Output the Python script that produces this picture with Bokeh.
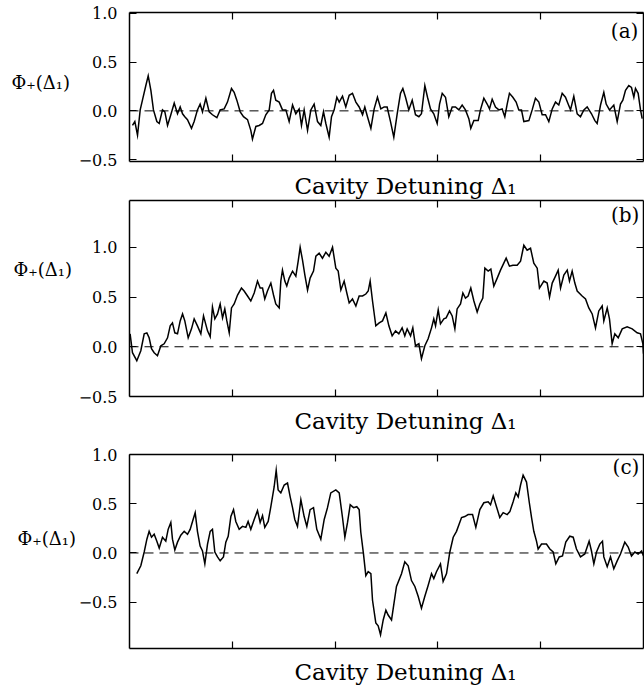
from bokeh.plotting import figure
from bokeh.models import LinearAxis, FixedTicker, CustomJSTickFormatter, Span, Label, Range1d
from bokeh.layouts import column, row
from bokeh.embed import file_html
from bokeh.resources import INLINE

# ---------------- data ----------------
x_ticks = [1, 2, 3, 4]
y_ticks = [-0.5, 0.0, 0.5, 1.0]
y_label = "Φ₊(Δ₁)"
x_label = "Cavity Detuning Δ₁"
panel_tags = ["(a)", "(b)", "(c)"]

xa = [0.029,0.052,0.078,0.104,0.126,0.159,0.182,0.208,0.233,0.266,0.289,0.321,0.344,0.370,0.402,0.435,0.467,0.493,0.516,0.538,
      0.564,0.603,0.629,0.661,0.687,0.710,0.743,0.775,0.807,0.850,0.882,0.921,0.953,0.992,1.018,1.044,1.077,1.109,1.148,1.180,
      1.196,1.229,1.261,1.294,1.326,1.359,1.381,1.401,1.423,1.456,1.488,1.521,1.553,1.586,1.618,1.650,1.673,1.699,1.732,1.764,
      1.796,1.829,1.861,1.887,1.910,1.942,1.965,1.991,2.017,2.040,2.072,2.104,2.137,2.169,2.202,2.234,2.267,2.289,2.315,2.348,
      2.380,2.412,2.445,2.477,
      2.506,2.539,2.571,2.604,2.636,2.659,2.685,2.717,2.750,2.782,2.815,2.840,2.873,2.899,2.928,2.960,2.993,3.016,3.042,3.074,
      3.106,3.139,3.171,3.204,3.236,3.268,3.301,3.320,3.350,3.392,3.414,3.447,3.479,3.502,3.528,3.560,3.593,3.625,3.651,3.674,
      3.696,3.729,3.761,3.787,3.813,3.836,3.885,3.917,3.949,3.982,4.014,4.047,4.079,4.112,4.144,4.176,4.209,4.241,4.267,4.290,
      4.322,4.355,4.387,4.420,4.452,4.494,4.527,4.549,4.582,4.614,4.637,4.669,4.711,4.744,4.776,4.799,4.825,4.857,4.883,4.906,
      4.922,4.948,4.971,4.987]
ya = [-0.15,-0.11,-0.25,0.01,0.11,0.26,0.36,0.21,0.01,-0.11,-0.13,0.01,-0.01,-0.15,-0.04,0.08,-0.03,0.04,-0.03,-0.06,
      -0.09,-0.18,-0.11,0.01,0.07,-0.01,0.13,-0.01,-0.04,-0.07,0.01,0.02,0.09,0.23,0.19,0.11,-0.01,-0.06,-0.09,-0.20,
      -0.29,-0.16,-0.15,-0.13,-0.04,0.01,0.18,0.21,0.11,0.09,0.01,0.01,-0.11,0.06,-0.03,0.02,-0.15,0.01,-0.20,0.01,
      0.07,-0.11,-0.15,-0.01,-0.13,-0.27,-0.06,0.01,0.14,0.09,0.15,0.04,0.16,0.18,0.09,0.04,-0.04,0.04,-0.06,-0.18,
      0.02,0.14,0.02,0.04,
      0.04,-0.11,-0.27,-0.03,0.18,0.23,0.14,0.01,0.11,-0.04,-0.06,-0.03,0.26,0.14,0.02,-0.03,-0.13,0.07,0.18,0.14,
      -0.06,0.04,0.04,0.01,0.06,0.01,-0.08,-0.18,-0.10,-0.10,0.01,0.13,0.07,0.02,0.12,0.04,0.01,0.02,-0.06,0.07,
      0.18,0.14,0.09,0.01,0.01,-0.11,-0.10,0.01,0.13,0.09,-0.04,-0.04,-0.11,0.02,0.09,0.06,0.18,0.14,0.07,0.01,
      0.15,-0.03,-0.06,0.01,0.04,-0.03,-0.10,-0.13,0.06,0.19,0.07,0.01,0.06,-0.11,0.07,0.11,0.21,0.26,0.24,0.14,
      0.23,0.18,0.01,-0.08]

xb = [0.006,0.029,0.071,0.110,0.143,0.169,0.191,0.214,0.240,0.272,0.305,0.337,0.370,0.396,0.418,0.441,0.467,0.493,0.516,0.538,
      0.571,0.603,0.629,0.661,0.694,0.720,0.759,0.785,0.807,0.830,0.856,0.882,0.905,0.927,0.947,0.970,0.992,1.018,1.051,1.089,
      1.115,1.148,1.180,1.213,1.245,1.271,1.294,1.316,1.342,1.375,1.401,1.423,1.456,1.472,1.488,1.511,1.530,1.553,1.586,1.618,
      1.641,1.660,1.683,1.706,1.732,1.757,1.790,1.813,1.845,1.877,1.910,1.942,1.975,2.007,2.030,2.056,2.088,2.114,2.137,2.169,
      2.202,2.234,2.267,2.299,2.322,2.341,2.364,2.396,2.429,2.461,2.494,
      2.523,2.555,2.588,2.620,2.652,2.678,2.701,2.734,2.756,2.782,2.815,2.840,2.873,2.905,2.938,2.960,2.977,3.003,3.025,3.058,
      3.080,3.113,3.139,3.165,3.187,3.220,3.243,3.268,3.294,3.320,3.350,3.382,3.408,3.437,3.457,3.489,3.515,3.544,3.577,3.609,
      3.641,3.664,3.696,3.729,3.771,3.804,3.836,3.868,3.901,3.933,3.966,3.988,4.031,4.063,4.086,4.112,4.144,4.170,4.193,4.225,
      4.258,4.280,4.306,4.332,4.355,4.403,4.436,4.468,4.501,4.533,4.565,4.598,4.614,4.647,4.669,4.695,4.721,4.754,4.793,4.841,
      4.890,4.938,4.971,4.994,5.0]
yb = [0.13,-0.06,-0.14,-0.04,0.13,0.14,0.09,-0.02,-0.06,-0.09,0.01,0.03,0.09,0.21,0.24,0.14,0.13,0.26,0.33,0.26,
      0.09,0.18,0.28,0.21,0.13,0.31,0.16,0.10,0.40,0.28,0.33,0.43,0.29,0.38,0.26,0.14,0.39,0.43,0.52,0.59,
      0.56,0.51,0.46,0.54,0.66,0.59,0.59,0.48,0.56,0.64,0.52,0.43,0.39,0.66,0.77,0.66,0.61,0.69,0.76,0.71,
      0.86,1.00,0.87,0.72,0.57,0.69,0.76,0.91,0.94,0.89,0.95,0.91,1.00,0.79,0.76,0.57,0.66,0.54,0.44,0.48,
      0.41,0.51,0.51,0.53,0.56,0.66,0.46,0.21,0.24,0.26,0.34,
      0.21,0.11,0.16,0.13,0.19,0.11,0.18,0.11,0.19,0.01,0.03,-0.12,0.01,0.08,0.19,0.28,0.21,0.37,0.23,0.28,
      0.29,0.36,0.31,0.18,0.38,0.43,0.54,0.49,0.51,0.59,0.46,0.35,0.43,0.49,0.79,0.76,0.78,0.61,0.69,0.77,
      0.84,0.89,0.81,0.82,0.82,0.86,1.02,0.97,0.99,0.84,0.79,0.59,0.66,0.64,0.50,0.64,0.71,0.77,0.59,0.72,
      0.77,0.66,0.76,0.64,0.56,0.51,0.48,0.39,0.33,0.19,0.36,0.41,0.26,0.39,0.28,0.03,0.13,0.09,0.18,0.20,
      0.18,0.14,0.13,0.03,-0.07]

xc = [0.071,0.110,0.143,0.169,0.191,0.214,0.240,0.266,0.289,0.321,0.353,0.376,0.402,0.418,0.441,0.467,0.499,0.532,0.564,0.590,
      0.613,0.639,0.661,0.687,0.710,0.733,0.759,0.785,0.807,0.830,0.856,0.882,0.914,0.937,0.960,0.986,1.012,1.034,1.067,1.099,
      1.132,1.154,1.180,1.213,1.245,1.271,1.294,1.316,1.349,1.375,1.407,1.427,1.446,1.472,1.505,1.537,1.563,1.586,1.608,1.634,
      1.667,1.699,1.725,1.757,1.790,1.822,1.861,1.894,1.926,1.958,2.007,2.040,2.072,2.095,2.121,2.147,2.179,2.211,2.234,2.250,
      2.276,2.299,2.322,2.348,
      2.364,2.396,2.419,2.442,2.468,2.494,2.516,2.549,2.597,2.646,2.678,2.711,2.743,2.776,2.808,2.840,2.873,2.905,2.938,2.960,
      2.986,3.025,3.051,3.084,3.116,3.149,3.181,3.230,3.262,3.294,3.337,3.369,3.408,3.447,3.489,3.512,3.538,3.570,3.602,3.635,
      3.674,3.700,3.732,3.758,3.781,3.804,3.829,3.862,3.888,3.911,3.933,3.959,3.975,4.008,4.056,4.089,4.121,4.147,4.180,4.212,
      4.244,4.283,4.316,4.348,4.387,4.429,4.471,4.494,4.517,4.543,4.575,4.601,4.614,4.647,4.679,4.711,4.744,4.776,4.818,4.851,
      4.883,4.916,4.948,4.981,5.0]
yc = [-0.21,-0.13,0.01,0.14,0.22,0.16,0.19,0.12,0.05,0.16,0.12,0.24,0.31,0.14,0.03,0.11,0.18,0.22,0.19,0.24,
      0.32,0.41,0.22,0.07,0.02,-0.11,0.09,0.22,0.24,0.01,-0.04,-0.08,-0.04,0.11,0.17,0.37,0.44,0.32,0.24,0.27,
      0.26,0.32,0.24,0.34,0.43,0.31,0.38,0.26,0.32,0.47,0.67,0.84,0.64,0.61,0.69,0.71,0.57,0.46,0.34,0.27,
      0.54,0.37,0.27,0.44,0.46,0.24,0.14,0.34,0.46,0.61,0.64,0.61,0.36,0.16,0.31,0.49,0.46,0.47,0.44,0.21,
      -0.01,-0.23,-0.19,-0.21,
      -0.48,-0.71,-0.74,-0.83,-0.68,-0.58,-0.63,-0.68,-0.34,-0.21,-0.09,-0.13,-0.28,-0.34,-0.44,-0.56,-0.44,-0.33,-0.21,-0.26,
      -0.19,-0.11,-0.29,-0.21,0.01,0.16,0.22,0.36,0.37,0.39,0.39,0.26,0.44,0.51,0.52,0.49,0.58,0.47,0.36,0.41,
      0.39,0.42,0.52,0.61,0.57,0.69,0.79,0.72,0.52,0.36,0.22,0.12,0.04,0.09,0.09,0.04,0.01,-0.11,-0.04,-0.03,
      0.11,0.17,0.16,0.04,-0.04,-0.01,0.12,0.02,-0.11,0.01,0.09,0.12,-0.04,-0.14,-0.04,-0.16,-0.08,-0.01,0.11,0.06,
      -0.03,0.01,-0.01,0.02,-0.03]

FONT = "DejaVu Serif"
LAB_W = 75          # strip holding the horizontal y label
AX_W = 52           # room for the tick labels
FRAME_W = 514
RIGHT_B = 2
TOTAL_W = LAB_W + AX_W + FRAME_W + RIGHT_B
BOTTOM_B = 10


def bare_axis(ticks):
    ax = LinearAxis(ticker=FixedTicker(ticks=ticks, minor_ticks=[]))
    ax.axis_line_color = "black"
    ax.axis_line_width = 1.5
    ax.major_tick_in = 7
    ax.major_tick_out = 0
    ax.major_tick_line_width = 1.2
    ax.minor_tick_line_color = None
    ax.major_label_text_color = None
    ax.major_label_text_font_size = "0px"
    ax.major_label_standoff = 0
    return ax


def text_strip(w, h, text, x, y, size, align):
    f = figure(width=w, height=h, x_range=Range1d(0, w), y_range=Range1d(0, h),
               x_axis_type=None, y_axis_type=None, output_backend="svg",
               toolbar_location=None, min_border=0)
    f.outline_line_color = None
    f.background_fill_color = "white"
    f.border_fill_color = "white"
    f.add_layout(Label(x=x, y=y, text=text, text_align=align, text_baseline="middle",
                       text_font=FONT, text_font_size=size, text_color="black"))
    return f


def make_panel(x, y, y_range, frame_h, b_top, tag, tag_x, tag_y):
    p = figure(frame_width=FRAME_W, frame_height=frame_h,
               x_range=Range1d(0, 5), y_range=Range1d(*y_range),
               x_axis_type=None, y_axis_type=None,
               output_backend="svg", toolbar_location=None,
               min_border_left=AX_W, min_border_right=RIGHT_B,
               min_border_top=b_top, min_border_bottom=BOTTOM_B)
    p.outline_line_color = None
    p.background_fill_color = "white"
    p.border_fill_color = "white"

    left = LinearAxis(ticker=FixedTicker(ticks=y_ticks, minor_ticks=[]))
    left.axis_line_color = "black"
    left.axis_line_width = 1.5
    left.major_tick_in = 7
    left.major_tick_out = 0
    left.major_tick_line_width = 1.2
    left.minor_tick_line_color = None
    left.formatter = CustomJSTickFormatter(
        code="return (tick < 0 ? '\u2212' : '') + Math.abs(tick).toFixed(1);")
    left.major_label_text_font = FONT
    left.major_label_text_font_size = "16px"
    left.major_label_text_color = "black"
    left.major_label_standoff = 12
    p.add_layout(left, "left")

    p.add_layout(bare_axis(y_ticks), "right")
    p.add_layout(bare_axis(x_ticks), "above")
    p.add_layout(bare_axis(x_ticks), "below")

    p.add_layout(Span(location=0, dimension="width", line_color="black",
                      line_width=1, line_dash="9 6"))
    p.line(x, y, line_color="black", line_width=1.5, line_join="miter")

    p.add_layout(Label(x=tag_x, y=tag_y, text=tag, text_align="right", text_baseline="middle",
                       text_font=FONT, text_font_size="20px", text_color="black"))
    return p


# panel (a): frame 12..161
pa = make_panel(xa, ya, (-0.52, 1.01), 149, 12, panel_tags[0], 4.95, 0.815)
ha = 12 + 149 + BOTTOM_B
la = text_strip(LAB_W, ha, y_label, 11, ha - 80, "18px", "left")
xla = text_strip(TOTAL_W, 28, x_label, 405, 14, "23px", "center")

# panel (b): frame 200..396
pb = make_panel(xb, yb, (-0.5, 1.47), 196, 1, panel_tags[1], 4.96, 1.32)
hb = 1 + 196 + BOTTOM_B
lb = text_strip(LAB_W, hb, y_label, 13, hb - 73, "18px", "left")
xlb = text_strip(TOTAL_W, 28, x_label, 405, 14, "23px", "center")

# panel (c): frame 454..648
pc = make_panel(xc, yc, (-0.97, 1.0), 194, 20, panel_tags[2], 4.96, 0.87)
hc = 20 + 194 + BOTTOM_B
lc = text_strip(LAB_W, hc, y_label, 17, hc - 97, "18px", "left")
xlc = text_strip(TOTAL_W, 27, x_label, 405, 13.5, "23px", "center")

layout = column(row(la, pa), xla, row(lb, pb), xlb, row(lc, pc), xlc)
open("out.html", "w").write(file_html(layout, INLINE))
